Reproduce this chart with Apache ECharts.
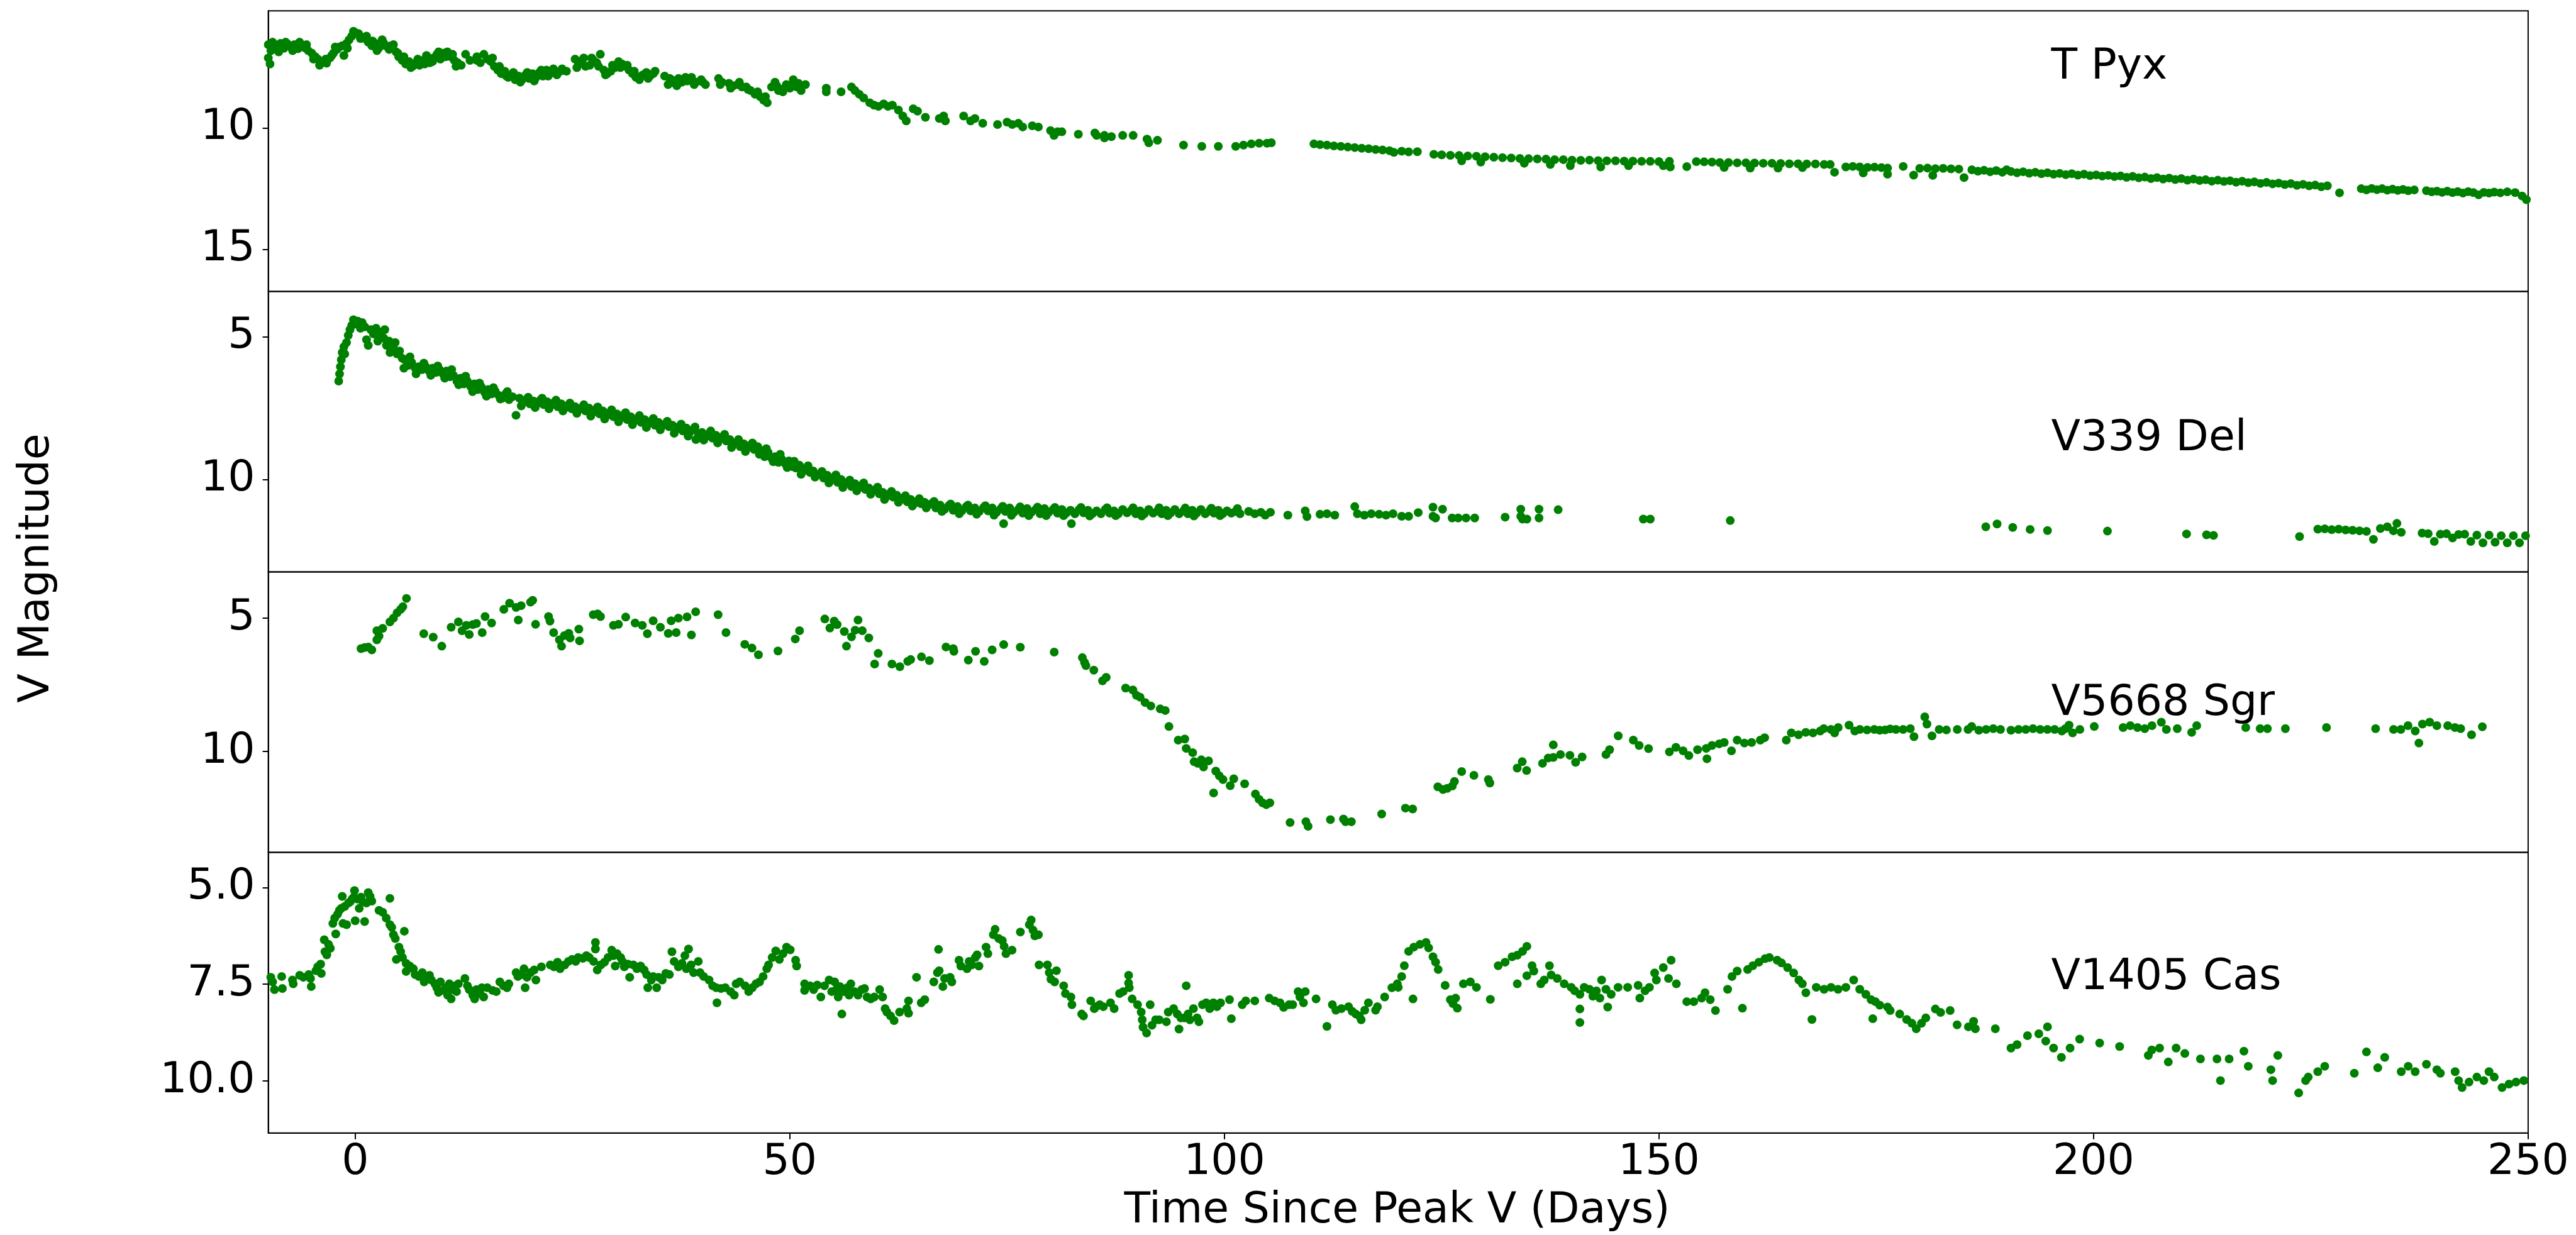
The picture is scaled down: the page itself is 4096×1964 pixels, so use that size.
<!DOCTYPE html>
<html>
<head>
<meta charset="utf-8">
<title>Nova V-band light curves</title>
<script src="https://cdn.jsdelivr.net/npm/echarts@6/dist/echarts.min.js"></script>
<style>
  html, body { margin: 0; padding: 0; background: #fff; }
  #chart { width: 4096px; height: 1964px; }
</style>
</head>
<body>
<div id="chart"></div>
<script>
// light curves: [days since peak V, V magnitude]
const tPyx = [
  [-10.0,6.55],[-10.0,7.1],[-9.8,7.35],[-9.7,6.8],[-9.3,6.55],[-9.0,6.75],[-8.6,6.5],[-8.2,6.7],[-7.8,6.52],[-7.4,6.65],
  [-7.0,6.55],[-6.6,6.72],[-6.2,6.58],[-5.8,6.68],[-5.4,6.8],[-5.0,6.9],[-4.6,7.05],[-4.3,7.15],[-4.0,7.3],[-3.6,7.25],
  [-3.3,7.32],[-2.9,7.1],[-2.5,6.9],[-2.1,6.75],[-1.8,6.65],[-1.5,6.6],[-1.3,7.0],[-1.0,6.5],[-0.7,6.35],[-0.4,6.2],
  [0.0,6.05],[0.4,6.1],[0.8,6.25],[1.1,6.3],[1.5,6.45],[1.9,6.6],[2.3,6.5],[2.7,6.7],[3.1,6.35],[3.5,6.6],[3.9,6.75],
  [4.4,6.55],[4.7,6.85],[5.0,7.05],[5.4,7.2],[5.8,7.35],[6.2,7.25],[6.6,7.45],[7.0,7.3],[7.4,7.4],[7.8,7.2],[8.2,7.0],
  [8.6,7.3],[9.0,7.1],[9.4,6.95],[9.8,7.15],[10.2,6.9],[10.6,6.85],[11.0,7.05],[11.4,7.2],[11.8,7.3],[12.2,7.4],[12.7,6.95],
  [14.0,7.2],[14.0,7.05],[14.8,6.95],[15.2,7.15],[15.6,7.25],[16.0,7.45],[16.4,7.6],[16.8,7.75],[17.2,7.65],[17.6,7.9],
  [18.0,7.8],[18.4,8.0],[18.8,7.85],[19.2,8.0],[19.6,7.8],[20.0,7.95],[20.4,7.75],[20.8,7.9],[21.2,7.7],[21.6,7.85],
  [22.0,7.6],[22.4,7.75],[22.8,7.55],[23.2,7.8],[23.6,7.65],[24.3,7.65],[25.3,7.15],[25.7,7.35],[26.1,7.2],[26.5,7.45],
  [27.0,7.4],[27.4,7.2],[27.8,7.3],[28.2,6.95],[28.6,7.6],[29.0,7.75],[29.4,7.65],[29.9,7.5],[30.3,7.25],[30.7,7.35],
  [31.1,7.45],[31.5,7.6],[31.9,7.75],[32.3,7.9],[32.7,8.0],[33.1,7.8],[33.5,7.7],[33.9,7.85],[34.3,7.75],[35.6,7.85],
  [36.0,8.2],[36.4,8.0],[36.8,8.15],[37.2,7.95],[37.6,8.1],[38.2,8.05],[38.7,7.9],[39.2,8.1],[39.8,8.0],[40.3,8.2],
  [41.8,7.95],[42.2,8.1],[43.0,8.15],[43.5,8.25],[44.0,8.2],[44.5,8.3],[45.0,8.3],[45.5,8.45],[46.0,8.6],[46.6,8.7],
  [47.0,8.85],[47.4,8.95],[47.9,8.3],[48.3,8.1],[48.7,8.45],[49.2,8.5],[49.6,8.2],[50.0,8.35],[50.4,8.0],[50.8,8.3],
  [51.3,8.45],[51.8,8.2],[54.2,8.35],[54.2,8.5],[55.9,8.5],[57.1,8.3],[57.5,8.45],[58.0,8.6],[58.5,8.75],[59.2,8.95],
  [59.7,9.05],[60.2,9.1],[60.8,9.0],[61.3,9.1],[61.8,9.05],[62.5,9.25],[63.0,9.5],[63.4,9.7],[64.2,9.2],[64.7,9.3],
  [65.6,9.55],[67.2,9.6],[67.7,9.5],[67.9,9.7],[70.0,9.5],[70.8,9.7],[71.3,9.6],[72.2,9.8],[73.9,9.85],[75.0,9.75],
  [75.6,9.85],[76.3,9.8],[76.8,9.95],[77.9,9.9],[78.6,9.95],[80.0,10.1],[80.4,10.3],[80.8,10.15],[81.3,10.15],[83.2,10.25],
  [85.1,10.2],[85.3,10.3],[86.2,10.4],[86.2,10.3],[87.0,10.35],[88.3,10.3],[89.5,10.3],[91.1,10.45],[91.3,10.6],[92.3,10.5],
  [95.3,10.7],[97.4,10.75],[99.3,10.75],[101.3,10.75],[102.2,10.7],[103.1,10.65],[104.0,10.62],[104.9,10.62],[105.4,10.6],
  [110.3,10.65],[111.0,10.68],[111.8,10.7],[112.6,10.73],[113.4,10.75],[114.2,10.78],[115.0,10.8],[115.8,10.83],[116.6,10.85],
  [117.4,10.88],[118.2,10.9],[119.0,10.93],[119.5,11.0],
  // band edges of the dense early coverage
  [-9.5,6.45],[-8.8,6.85],[-8.0,6.45],[-7.2,6.8],[-6.4,6.45],[-5.6,6.55],[-4.8,7.15],[-4.1,7.4],[-3.4,7.15],[-2.7,7.0],
  [-2.3,6.65],[-0.9,6.7],[-0.2,6.0],[0.6,6.3],[1.3,6.2],[2.0,6.4],[2.5,6.8],[3.3,6.5],[4.1,6.6],[4.9,6.9],[5.6,7.05],
  [6.4,7.5],[7.2,7.15],[8.0,7.35],[8.9,7.25],[9.6,6.85],[10.4,7.05],[11.2,6.95],[11.6,7.45],[13.2,7.2],[14.4,7.3],
  [15.8,7.1],[16.6,7.45],[17.4,7.85],[18.2,7.7],[19.0,8.1],[19.8,7.7],[20.6,8.05],[21.4,7.6],[22.2,7.85],[23.0,7.7],
  [23.8,7.55],[25.5,7.5],[26.3,7.1],[27.2,7.1],[28.0,7.45],[28.8,7.8],[29.6,7.4],[30.5,7.5],[31.3,7.4],[32.1,7.65],
  [32.9,7.85],[33.7,7.95],[34.5,7.65],[36.2,7.95],[37.0,8.25],[38.0,7.9],[39.0,8.2],[40.0,8.1],[42.0,8.2],[43.2,8.35],
  [44.2,8.1],[45.2,8.4],[46.3,8.5],[47.2,8.7],[48.5,8.25],[49.4,8.35],[50.2,8.2],[51.0,8.15],
  [120.4,10.95],[121.2,10.98],[122.2,10.97],[124.1,11.08],[125.0,11.1],[126.0,11.12],[127.0,11.13],[127.3,11.35],[128.0,11.15],
  [129.0,11.16],[129.5,11.4],[130.0,11.18],[131.0,11.2],[132.0,11.22],[133.0,11.23],[134.0,11.25],[134.5,11.45],[135.0,11.26],
  [136.0,11.27],[137.0,11.28],[137.5,11.5],[138.0,11.3],[139.0,11.3],[139.8,11.55],[140.0,11.32],[141.0,11.33],[142.0,11.32],
  [143.0,11.34],[143.3,11.6],[144.0,11.35],[145.0,11.35],[146.0,11.36],[146.5,11.55],[147.0,11.36],[148.0,11.37],[149.0,11.37],
  [150.0,11.38],[150.5,11.55],[151.2,11.37],[151.3,11.6],[153.2,11.59],
  [154.3,11.38],[155.2,11.39],[156.1,11.4],[157.0,11.42],[157.5,11.62],[158.0,11.42],[159.0,11.43],[160.0,11.43],[160.5,11.65],
  [161.0,11.44],[162.0,11.45],[163.0,11.45],[163.7,11.65],[164.0,11.46],[165.0,11.47],[166.0,11.47],[166.5,11.63],[167.0,11.48],
  [168.0,11.48],[169.0,11.5],[169.7,11.5],[170.2,11.82],
  [171.5,11.6],[172.3,11.58],[173.1,11.6],[173.5,11.85],[174.0,11.62],[174.8,11.61],[175.6,11.63],[176.3,11.65],[176.3,11.9],
  [178.1,11.58],[179.3,11.94],[180.0,11.66],[180.9,11.65],[181.5,11.95],[181.8,11.67],[182.7,11.66],[183.6,11.68],[184.5,11.69],
  [185.1,12.04],
  [186.0,11.72],[186.7,11.78],[187.4,11.74],[188.1,11.8],[188.8,11.75],[189.5,11.82],[190.0,11.72],[190.5,11.79],[191.2,11.84],
  [191.9,11.8],[192.6,11.86],[193.3,11.82],[194.0,11.88],[194.7,11.84],[195.4,11.9],[196.1,11.87],[196.8,11.92],[197.5,11.88],
  [198.2,11.94],[198.9,11.9],[199.6,11.96],[200.3,11.93],[201.0,11.98],[201.7,11.95],[202.4,12.0],[203.1,11.97],[203.8,12.03],
  [204.5,11.99],[205.2,12.05],[205.9,12.02],[206.6,12.08],[207.3,12.04],[208.0,12.1],
  [208.7,12.06],[209.4,12.12],[210.1,12.08],[210.8,12.15],[211.5,12.1],[212.2,12.16],[212.9,12.13],[213.6,12.19],[214.3,12.15],
  [215.0,12.2],[215.7,12.17],[216.4,12.23],[217.1,12.19],[217.8,12.25],[218.5,12.22],[219.2,12.28],[219.9,12.24],[220.6,12.3],
  [221.3,12.27],[222.0,12.33],[222.7,12.29],[223.4,12.36],[224.1,12.32],[224.8,12.38],[225.5,12.35],[226.2,12.42],[226.9,12.38],
  [228.3,12.67],
  [230.8,12.5],[231.4,12.55],[232.0,12.49],[232.6,12.54],[233.2,12.5],[233.8,12.56],[234.4,12.52],[235.0,12.57],[235.6,12.53],
  [236.2,12.58],[236.9,12.55],
  [238.3,12.58],[238.9,12.63],[239.5,12.6],[240.1,12.65],[240.7,12.6],[241.3,12.66],[241.9,12.62],[242.5,12.68],[243.1,12.62],
  [243.7,12.66],[244.3,12.75],[244.9,12.65],[245.5,12.68],[246.1,12.64],[246.8,12.67],[247.6,12.63],[248.5,12.66],[249.3,12.8],
  [249.8,12.95]
];

const v339Del = [
  [-1.9,6.55],[-1.8,6.3],[-1.7,6.05],[-1.6,5.8],[-1.5,5.55],[-1.3,5.35],[-1.2,5.6],[-1.0,5.2],[-0.8,4.95],[-0.6,4.75],
  [-0.4,4.6],[-0.2,4.4],[0.1,4.55],[0.3,4.45],[0.6,4.7],[0.8,4.5],[1.1,4.65],[1.3,5.1],[1.5,5.3],[1.8,4.75],[2.1,4.9],
  [2.4,4.7],[2.7,5.0],[3.0,4.85],[3.3,5.05],[3.6,5.3],[3.9,5.15],[4.2,5.4],[4.5,5.45],[4.8,5.6],[5.1,5.5],[5.4,5.75],
  [5.7,5.8],[6.1,6.0],[6.5,5.9],[6.9,6.1],[7.3,6.05],[7.7,6.15],[8.1,6.05],[8.5,6.2],[8.9,6.1],[9.3,6.25],[9.7,6.15],
  [10.1,6.3],[10.5,6.2],[10.9,6.4],[11.3,6.35],[11.7,6.55],[12.1,6.45],[12.5,6.65],[12.9,6.55],[13.3,6.75],[13.7,6.65],
  [14.1,6.85],[14.5,6.75],[14.9,6.95],[15.3,6.85],[15.7,7.0],[16.1,6.9],[16.5,7.05],[16.9,7.15],[17.3,7.0],[17.7,7.2],
  [18.1,7.1],[18.5,7.75],[18.9,7.15],[19.3,7.3],[19.7,7.2],[20.1,7.35],[20.5,7.25],[20.9,7.35],[21.3,7.22],[21.7,7.38],
  [22.1,7.28],[22.5,7.4],[22.9,7.3],[23.3,7.45],[23.7,7.35],[24.1,7.5],[24.5,7.4],[24.9,7.52],[25.3,7.45],[25.7,7.55],
  [26.1,7.48],[26.5,7.6],[26.9,7.5],[27.3,7.65],[27.7,7.55],[28.1,7.7],[28.5,7.6],[28.9,7.75],[29.3,7.65],[29.7,7.8],
  [30.1,7.7],[30.5,7.85],[30.9,7.75],[31.3,7.9],[31.7,7.8],[32.1,7.95],[32.5,7.85],[32.9,8.0],[33.3,7.9],[33.7,8.05],
  [34.1,7.95],[34.5,8.1],[34.9,8.0],[35.3,8.12],[35.7,8.05],[36.1,8.15],[36.5,8.1],[36.9,8.25],[37.3,8.15],[37.7,8.3],
  [38.1,8.2],[38.5,8.35],[38.9,8.25],[39.2,8.6],[39.5,8.4],[39.9,8.35],[40.3,8.5],[40.7,8.4],[41.1,8.55],[41.5,8.45],
  [41.9,8.6],[42.3,8.5],[42.7,8.65],[43.1,8.6],[43.5,8.75],[43.9,8.7],[44.3,8.85],[44.7,8.75],[45.1,8.9],[45.5,8.8],
  [45.9,8.95],[46.3,8.85],[46.7,9.0],[47.1,9.2],[47.5,9.05],[47.9,9.25],[48.3,9.2],[48.7,9.4],[49.1,9.3],[49.5,9.45],
  [49.9,9.35],[50.3,9.55],[50.7,9.6],[51.1,9.5],[51.5,9.7],[51.9,9.6],[52.3,9.75],[52.7,9.7],[53.1,9.85],[53.5,9.8],
  [53.9,9.95],[54.3,9.85],[54.7,10.0],[55.1,9.95],[55.5,10.1],[55.9,10.0],[56.3,10.15],[56.7,10.1],[57.1,10.25],[57.5,10.15],
  [57.9,10.3],[58.3,10.2],[58.7,10.35],[59.1,10.3],[59.5,10.4],[59.9,10.35],[60.3,10.5],[60.7,10.45],[61.1,10.6],[61.5,10.5],
  [61.9,10.62],[62.3,10.55],[62.7,10.7],[63.1,10.65],[63.5,10.78],[63.9,10.7],[64.3,10.85],[64.7,10.75],[65.1,10.85],[65.5,10.8],
  [65.9,10.9],[66.3,10.85],[66.8,11.0],[67.3,10.9],[67.8,11.05],[68.3,10.92],[68.8,11.08],[69.3,10.95],[69.8,11.1],[70.3,10.95],
  [70.8,11.1],[71.3,11.0],[71.8,11.12],[72.3,10.98],[72.8,11.1],[73.3,11.0],[73.8,11.15],[74.3,11.02],[74.6,11.55],[74.8,11.12],
  [75.3,11.0],[75.8,11.15],[76.3,11.05],[76.8,11.18],[77.3,11.02],[77.8,11.15],[78.3,11.05],[78.8,11.2],[79.3,11.02],[79.8,11.15],
  [80.3,11.05],[80.8,11.18],[81.3,11.05],[81.8,11.18],[82.3,11.08],[82.4,11.55],[82.8,11.2],[83.3,11.05],[83.8,11.17],[84.3,11.08],
  [84.8,11.2],[85.3,11.1],[85.8,11.2],[86.3,11.05],[86.8,11.18],[87.3,11.1],[87.8,11.2],[88.3,11.05],[88.8,11.17],[89.3,11.08],
  [89.8,11.2],[90.3,11.1],[90.8,11.2],[91.3,11.05],[91.8,11.18],[92.3,11.1],[92.8,11.2],[93.3,11.08],[93.8,11.18],[94.3,11.05],
  [94.8,11.2],[95.3,11.1],[95.8,11.2],[96.3,11.08],[96.8,11.18],[97.3,11.05],[97.8,11.2],[98.3,11.1],[98.8,11.18],[99.3,11.08],
  [99.8,11.2],[100.3,11.1],[100.8,11.18],[101.3,11.12],[101.8,11.2],[102.8,11.12],[103.5,11.2],[104.2,11.15],[104.7,11.25],
  [105.3,11.15],[107.3,11.25],[109.3,11.1],[109.5,11.3],[111.0,11.22],[111.8,11.2],[112.7,11.25],[115.0,10.95],[115.3,11.2],
  [116.1,11.25],[116.9,11.2],[117.8,11.22],[118.6,11.25],[119.4,11.2],
  // band edges of the dense decline
  [2.6,5.15],[3.4,4.75],[4.0,5.55],[4.6,5.2],[5.6,6.1],[6.3,5.7],[7.0,6.3],[7.9,5.92],[8.7,6.35],[9.5,6.02],[10.3,6.45],
  [11.1,6.15],[11.9,6.68],[12.7,6.38],[13.5,6.92],[14.3,6.62],[15.1,7.08],[15.9,6.78],[16.7,7.18],[17.5,6.92],[19.1,7.42],
  [19.9,7.12],[20.7,7.48],[21.5,7.15],[22.3,7.52],[23.1,7.22],[23.9,7.6],[24.7,7.32],[25.5,7.68],[26.3,7.38],[27.1,7.78],
  [27.9,7.46],[28.7,7.88],[29.5,7.56],[30.3,7.98],[31.1,7.66],[31.9,8.08],[32.7,7.76],[33.5,8.18],[34.3,7.86],[35.1,8.26],
  [35.9,7.96],[36.7,8.38],[37.5,8.06],[38.3,8.48],[39.1,8.16],[40.1,8.62],[40.9,8.3],[41.7,8.72],[42.5,8.42],[43.3,8.88],
  [44.1,8.6],[44.9,9.02],[45.7,8.72],[46.5,9.12],[47.3,8.92],[48.1,9.38],[48.9,9.12],[49.7,9.58],[50.5,9.36],[51.3,9.82],
  [52.1,9.52],[52.9,9.92],[53.7,9.72],[54.5,10.12],[55.3,9.84],[56.1,10.28],[56.9,10.02],[57.7,10.4],[58.5,10.12],[59.3,10.52],
  [60.1,10.27],[60.9,10.7],[61.7,10.42],[62.5,10.8],[63.3,10.57],[64.1,10.93],[64.9,10.67],[65.7,11.0],[66.6,10.77],[67.5,11.12],
  [68.5,10.86],[69.5,11.2],[70.5,10.9],[71.5,11.22],[72.5,10.92],[73.5,11.25],[74.5,10.94],[75.5,11.26],[76.5,10.96],[77.5,11.27],
  [78.5,10.97],[79.5,11.27],[80.5,10.98],[81.5,11.27],[83.5,10.98],[84.5,11.28],[86.5,10.99],[87.5,11.27],[89.5,10.99],
  [90.5,11.28],[92.5,10.99],[93.5,11.27],[95.5,11.0],[96.5,11.28],[98.5,11.01],[99.5,11.27],[101.5,11.02],
  [120.4,11.29],[121.2,11.29],[122.3,11.16],[124.0,10.97],[124.0,11.29],[124.3,11.35],[125.1,11.04],[126.2,11.35],[126.9,11.35],
  [127.8,11.35],[128.8,11.35],[132.3,11.32],[134.1,11.04],[134.1,11.29],[134.3,11.39],[134.8,11.39],[136.2,11.04],[136.2,11.35],
  [138.4,11.06],[148.2,11.39],[149.0,11.39],[158.2,11.44],[187.6,11.66],[188.9,11.56],[190.7,11.68],[192.7,11.75],[194.7,11.79],
  [201.6,11.81],[210.7,11.91],[213.0,11.94],[213.8,11.96],[223.7,12.0],[225.8,11.74],[226.6,11.73],[227.4,11.76],[228.2,11.74],
  [229.0,11.77],[229.8,11.78],[230.6,11.8],[231.4,11.82],[232.2,12.1],[233.0,11.72],[233.8,11.66],[234.5,11.8],[234.9,11.54],
  [235.4,11.85],[237.8,11.88],[238.5,11.9],[239.2,12.17],[239.9,11.92],[240.6,11.9],[241.3,12.05],[242.0,11.93],[242.7,11.92],
  [243.4,12.17],[244.1,11.95],[244.8,12.22],[245.5,11.95],[246.2,12.2],[246.9,11.97],[247.6,12.22],[248.3,11.97],[249.0,12.22],
  [249.7,11.97]
];

const v5668Sgr = [
  [0.67,6.14],[1.08,6.10],[1.50,6.08],[1.91,6.19],[2.49,5.81],[2.74,5.67],[2.49,5.47],[3.16,5.38],[3.99,5.14],[4.40,5.00],
  [4.82,4.80],[5.23,4.67],[5.48,4.57],[5.90,4.26],[7.89,5.58],[8.97,5.71],[9.96,6.05],[11.04,5.34],[11.87,5.14],[12.29,5.47],
  [12.78,5.27],[13.12,5.61],[13.53,5.24],[13.95,5.20],[14.61,5.54],[14.94,4.94],[15.69,5.18],[17.10,4.67],[17.76,4.44],
  [18.51,4.60],[18.76,5.07],[19.09,4.53],[20.17,4.40],[20.42,4.33],[20.75,5.23],[22.24,4.94],[22.41,5.11],[22.83,5.54],
  [23.49,5.81],[23.74,6.05],[24.07,5.65],[24.57,5.57],[24.73,5.74],[25.73,5.41],[25.81,5.85],[27.39,4.87],[27.89,4.84],
  [28.22,4.94],[29.71,5.27],[30.29,5.23],[31.12,4.96],[32.20,5.18],[33.03,5.27],[33.61,5.58],[34.28,5.10],[35.11,5.34],
  [36.02,5.57],[36.35,5.10],[36.93,5.54],[37.18,5.00],[38.18,4.95],[38.68,5.63],[39.17,4.76],[41.75,4.87],[42.66,5.54],
  [44.82,5.98],[45.65,6.12],[46.39,6.37],[48.64,6.23],[50.63,5.78],[51.12,5.47],[54.03,5.03],[54.61,5.37],[55.11,5.11],
  [55.44,5.24],[56.27,5.50],[56.52,6.05],[57.10,5.70],[57.52,5.45],[57.85,5.07],[58.34,5.47],[59.09,5.74],[59.76,6.72],
  [60.17,6.32],[61.75,6.72],[62.66,6.82],[63.57,6.62],[63.91,6.55],[65.15,6.45],[66.06,6.59],[67.97,6.08],[68.80,6.14],
  [68.88,6.24],[70.54,6.57],[71.37,6.24],[72.37,6.62],[73.28,6.19],[74.61,5.99],[76.52,6.09],[80.42,6.27],
  [83.66,6.48],[83.91,6.66],[84.07,6.78],[84.98,6.95],[85.98,7.35],[86.40,7.22],[88.64,7.62],[89.47,7.69],[89.88,7.89],
  [90.30,7.96],[90.88,8.16],[91.54,8.29],[92.62,8.40],[93.20,8.46],[93.62,9.06],[94.69,9.57],[95.44,9.53],[95.61,9.88],
  [96.35,10.04],[96.52,10.38],[96.93,10.44],[97.35,10.31],[97.60,10.58],[98.18,10.35],[98.76,11.55],[99.01,10.73],
  [99.42,10.91],[99.84,11.05],[100.67,11.28],[101.08,11.02],[102.33,11.21],[103.57,11.59],[103.99,11.79],[104.40,11.92],
  [104.82,11.99],[105.23,11.92],[107.56,12.66],[109.38,12.63],[109.63,12.80],[112.20,12.55],[113.70,12.53],[113.94,12.63],
  [114.61,12.63],[118.10,12.34],
  [120.83,12.12],[121.66,12.15],[124.56,11.32],[125.15,11.42],[125.64,11.38],[126.22,11.29],[126.47,11.12],[127.30,10.75],
  [128.71,10.89],[130.37,11.05],[130.54,11.18],[133.69,10.62],[134.27,10.38],[134.77,10.71],[136.60,10.44],[137.26,10.24],
  [137.84,10.22],[137.84,9.75],[138.67,10.11],[139.75,10.14],[140.41,10.40],[141.16,10.20],[143.90,10.11],[144.32,9.93],
  [145.31,9.41],[147.05,9.57],[147.72,9.77],[148.80,9.89],[151.20,10.01],[151.95,9.84],[152.78,9.97],[153.44,10.15],
  [154.44,9.93],[155.44,9.88],[155.52,10.27],[156.10,9.77],[156.93,9.71],[157.51,9.66],[158.34,9.97],[159.00,9.57],
  [159.83,9.68],[160.66,9.66],[161.66,9.57],[162.16,9.48],[164.65,9.57],[165.23,9.30],[166.06,9.37],[166.89,9.28],
  [167.72,9.30],[168.55,9.23],[168.96,9.14],[169.79,9.17],[170.21,9.30],[170.62,9.10],[171.87,9.01],[172.53,9.23],
  [173.11,9.17],[173.94,9.19],[174.77,9.17],[175.4,9.2],[176.02,9.19],[176.6,9.15],[177.26,9.17],[178.09,9.17],[178.92,9.14],
  [179.34,9.44],[180.58,8.70],[180.83,8.97],[181.41,9.41],[182.24,9.17],[183.07,9.19],[184.32,9.17],[185.56,9.17],
  [185.98,9.06],[186.8,9.2],[187.63,9.17],[188.46,9.14],[189.29,9.17],[190.5,9.2],[191.37,9.17],[192.20,9.17],[193.03,9.14],
  [193.86,9.17],[194.69,9.17],[195.52,9.17],[196.35,9.23],[196.76,9.14],[197.18,9.01],[197.59,9.30],[198.42,9.17],
  [200.08,9.06],[203.40,9.10],[204.23,9.03],[205.06,9.10],[205.89,9.14],[206.72,9.03],[207.80,8.90],[208.38,9.17],
  [209.63,9.14],[211.29,9.28],[211.87,9.03],[217.51,9.10],[219.17,9.14],[220.00,9.14],[222.07,9.14],[226.80,9.10],
  [232.45,9.14],[234.52,9.17],[235.35,9.17],[236.18,9.03],[237.01,9.23],[237.43,9.68],[237.84,8.97],[238.67,8.90],
  [239.50,9.03],[240.75,9.03],[241.58,9.10],[242.24,9.14],[243.49,9.37],[244.73,9.07]
];

const v1405Cas = [
  [-9.71,7.32],[-9.50,7.44],[-9.29,7.64],[-8.46,7.30],[-8.38,7.61],[-7.22,7.39],[-7.13,7.49],[-6.39,7.27],[-5.97,7.32],
  [-5.35,7.25],[-5.14,7.35],[-5.06,7.56],[-4.52,7.15],[-4.31,7.05],[-3.98,6.98],[-3.90,7.22],[-3.56,6.35],[-3.48,6.66],
  [-3.27,6.74],[-3.07,6.47],[-2.86,6.57],[-2.57,5.93],[-2.36,5.79],[-2.24,6.20],[-2.03,5.69],[-1.82,5.59],[-1.61,5.54],
  [-1.49,5.23],[-1.41,5.93],[-1.20,5.49],[-0.99,5.96],[-0.78,5.40],[-0.58,5.37],[-0.37,5.30],[-0.16,5.25],[-0.08,5.08],
  [0.00,5.86],[0.25,5.30],[0.46,5.54],[0.67,5.25],[0.88,5.37],[1.08,5.88],[1.29,5.40],[1.50,5.13],[1.71,5.23],[1.91,5.35],
  [2.74,5.59],[3.16,5.64],[3.57,5.79],[3.99,5.28],[3.99,5.96],[4.20,6.03],[4.40,6.22],[4.61,6.32],[4.73,6.86],[5.03,6.54],
  [5.23,6.66],[5.44,6.81],[5.65,6.13],[5.86,6.96],[5.86,7.17],[6.27,7.03],[6.69,7.10],[6.89,7.25],[7.31,7.30],[7.72,7.20],
  [7.93,7.44],[8.14,7.35],[8.55,7.27],[8.76,7.39],[9.17,7.49],[9.38,7.59],[9.59,7.71],[9.80,7.44],[10.21,7.66],[10.42,7.59],
  [10.63,7.78],[10.83,7.49],[11.04,7.88],[11.25,7.64],[11.46,7.54],[11.66,7.69],[11.87,7.49],[12.62,7.35],[12.91,7.54],
  [13.12,7.64],[13.53,7.78],[13.74,7.88],[13.95,7.64],[14.36,7.74],[14.57,7.59],[14.78,7.83],[15.19,7.59],[15.81,7.66],
  [16.23,7.69],[16.64,7.44],[17.06,7.54],[17.47,7.59],[17.68,7.49],[18.51,7.20],[18.72,7.30],[19.13,7.25],[19.42,7.10],
  [19.55,7.59],[19.76,7.32],[20.17,7.20],[20.59,7.13],[20.79,7.39],[21.42,7.05],[22.45,7.00],[22.87,7.05],[23.28,6.93],
  [23.57,7.10],[24.11,7.00],[24.53,6.91],[24.94,6.86],[25.36,6.91],[25.65,6.81],[26.19,6.83],[26.60,6.76],[26.93,6.81],
  [27.43,6.91],[27.64,6.42],[27.64,6.59],[27.85,7.13],[28.26,7.00],[28.68,6.93],[29.09,6.81],[29.51,6.62],[29.71,6.76],
  [29.92,7.03],[30.13,6.71],[30.54,6.81],[30.75,6.91],[30.96,7.05],[31.37,6.98],[31.58,7.32],[32.00,7.00],[32.41,7.10],
  [32.83,7.03],[33.24,7.13],[33.53,7.25],[33.66,7.59],[34.07,7.39],[34.28,7.30],[34.69,7.59],[34.90,7.32],[35.32,7.39],
  [35.73,7.22],[36.15,7.25],[36.44,6.66],[36.69,6.91],[37.18,7.05],[37.60,6.96],[37.93,6.76],[38.10,7.10],[38.35,6.59],
  [38.64,7.00],[38.93,7.20],[39.47,6.91],[39.67,7.20],[40.09,7.30],[40.71,7.39],[41.12,7.54],[41.54,7.59],[41.62,7.98],
  [42.08,7.61],[42.58,7.59],[43.20,7.69],[43.61,7.78],[43.82,7.49],[44.24,7.44],[44.86,7.54],[45.27,7.69],[45.69,7.59],
  [46.10,7.49],[46.52,7.44],[46.93,7.30],[47.35,7.10],[47.56,7.00],[47.97,6.81],[48.39,6.64],[48.80,6.86],[49.22,6.71],
  [49.63,6.54],[50.05,6.61],[50.67,6.88],[50.79,7.03],[51.70,7.49],[51.70,7.66],[52.33,7.54],[52.74,7.64],[53.16,7.52],
  [53.57,7.83],[53.99,7.54],[54.53,7.39],[54.82,7.69],
  [55.16,7.44],[55.36,7.64],[55.57,7.83],[55.78,7.56],[55.99,8.27],[56.19,7.69],[56.61,7.59],[56.82,7.78],[57.02,7.49],
  [57.44,7.69],[57.85,7.78],[58.27,7.64],[58.60,7.61],[58.89,7.83],[59.31,7.88],[59.72,7.83],[60.34,7.64],[60.68,7.83],
  [60.97,8.13],[61.17,8.22],[61.59,8.32],[62.00,8.44],[62.63,8.22],[63.46,8.13],[63.66,7.93],[63.66,8.25],[64.58,7.32],
  [65.12,7.98],[65.53,7.90],[66.57,7.44],[66.98,7.20],[67.11,6.60],[67.19,7.15],[67.61,7.56],[67.81,7.35],[68.44,7.32],
  [68.64,7.44],[69.47,6.88],[69.68,7.03],[70.39,7.10],[70.63,6.91],[70.93,7.00],[71.34,6.81],[71.55,6.74],[71.76,7.03],
  [72.58,6.54],[72.79,6.71],[73.42,6.22],[73.62,6.08],[74.04,6.32],[74.45,6.37],[74.66,6.52],[74.87,6.71],[75.57,6.62],
  [76.53,6.15],[77.56,5.96],[77.77,5.84],[77.98,6.10],[78.19,6.25],[78.60,6.22],[78.68,7.00],[79.64,7.00],[79.85,7.20],
  [80.05,7.37],[80.47,7.44],[80.68,7.15],[81.51,7.54],[81.71,7.74],[82.34,7.83],[82.46,8.03],[83.58,8.27],[83.79,8.32],
  [84.62,7.93],[85.03,8.13],[85.24,8.08],[85.66,8.03],[86.07,8.08],[86.90,7.98],[87.32,8.13],[87.94,7.74],[88.35,7.69],
  [88.98,7.27],[88.98,7.47],[89.06,7.59],[89.39,7.88],[90.01,8.03],[90.43,8.22],[90.55,8.42],[90.64,8.61],[91.05,8.76],
  [91.46,8.03],[91.67,8.56],[92.09,8.42],[92.50,8.42],[93.33,8.47],[93.54,8.22],[94.16,8.13],[94.58,8.27],[94.78,8.66],
  [94.99,8.37],[95.41,8.37],[95.61,7.54],[95.82,8.27],[96.03,8.42],[96.44,8.13],[96.86,8.37],[97.07,8.47],[97.48,8.03],
  [97.90,7.98],[98.31,8.13],[98.73,7.98],[99.14,8.08],[99.56,7.98],[100.59,7.90],[100.80,8.39],[102.05,8.03],[102.46,7.93],
  [103.50,7.93],[105.16,7.86],[105.78,7.93],[106.40,7.98],[106.82,8.10],[107.44,8.03],[107.86,8.03],[108.48,7.69],
  [108.69,7.83],[109.10,7.98],[109.31,7.69],[110.55,7.88],[111.80,8.59],[112.42,8.03],[112.83,8.17],[113.46,8.13],
  [114.29,8.08],[114.70,8.20],[115.12,8.27],[115.53,8.32],[115.74,8.42],[116.15,8.17],[116.57,7.98],[117.40,8.17],
  [117.61,8.08],[118.44,7.83],[119.27,7.59],[119.89,7.49],
  [120.0,7.58],[120.4,7.30],[120.7,7.02],[121.2,6.65],[121.8,6.54],[122.5,6.47],[123.2,6.42],[123.5,6.56],[124.0,6.79],
  [124.3,6.93],[124.6,7.12],[121.7,7.88],[125.4,7.53],[126.0,7.90],[126.3,8.00],[126.6,7.86],[126.8,8.12],[127.5,7.49],
  [128.3,7.44],[129.0,7.58],[130.6,7.89],[131.5,7.02],[132.3,6.93],[133.1,6.79],[133.7,6.75],[134.3,6.65],[134.8,6.52],
  [133.7,7.49],[134.8,7.28],[135.4,7.02],[135.6,7.16],[136.4,7.49],[136.8,7.39],[137.4,7.02],[137.6,7.26],[138.3,7.35],
  [139.1,7.49],[139.9,7.58],[140.3,7.67],[140.9,7.76],[140.9,8.14],[140.9,8.49],[141.4,7.58],[142.0,7.63],[142.4,7.81],
  [142.8,7.67],[143.2,7.86],[143.4,7.39],[143.9,7.63],[144.1,8.09],[144.5,7.76],[145.3,7.58],[146.4,7.58],[147.6,7.53],
  [147.8,7.86],[148.4,7.67],[148.9,7.58],[149.5,7.21],[149.7,7.39],[150.5,7.07],[151.1,7.35],[151.4,6.88],[152.0,7.49],
  [153.2,7.95],[154.0,7.95],[154.9,7.86],[155.3,7.72],[155.9,7.90],[156.5,8.18],[157.9,7.63],[158.4,7.30],[159.0,7.16],
  [159.6,8.12],[160.2,7.12],[160.8,7.02],[161.5,6.93],[162.2,6.84],[162.7,6.81],[163.6,6.88],[164.1,6.95],[164.8,7.07],
  [165.5,7.21],[166.1,7.39],[166.5,7.49],[166.9,7.72],[167.6,8.41],[168.1,7.58],[169.0,7.63],[169.8,7.58],[170.6,7.63],
  [171.5,7.58],[172.4,7.39],[173.1,7.63],[173.8,7.76],[174.4,7.90],[174.6,8.39],[174.9,7.95],[175.4,8.04],[176.3,8.09],
  [176.6,8.18],[177.7,8.27],[178.5,8.41],[179.1,8.51],[179.6,8.65],[180.2,8.51],[180.7,8.37],[181.8,8.14],[182.4,8.23],
  [183.5,8.18],[184.3,8.55],[185.6,8.60],[186.2,8.46],[186.4,8.65],[188.7,8.65],[190.5,9.15],[191.2,9.06],[192.4,8.83],
  [193.7,8.78],[194.7,8.60],[194.5,8.97],[195.4,9.15],[196.3,9.39],[197.3,9.15],[198.4,8.92],[200.7,9.02],[203.0,9.11],
  [206.3,9.34],[206.7,9.20],[207.6,9.15],[208.6,9.51],[209.5,9.15],[210.5,9.29],[212.3,9.43],[214.2,9.43],[214.6,9.99],
  [215.6,9.43],[217.3,9.23],[217.8,9.62],[220.4,9.71],[220.6,9.99],[221.2,9.34],[223.6,10.31],[224.4,9.99],[224.7,9.90],
  [225.8,9.76],[226.6,9.62],[230.0,9.80],[231.4,9.25],[232.7,9.66],[233.5,9.39],[235.4,9.76],[236.2,9.62],[237.0,9.76],
  [238.3,9.57],[239.5,9.71],[239.9,9.80],[241.6,9.76],[242.0,9.99],[242.4,10.17],[243.2,10.03],[244.1,9.90],[244.9,9.99],
  [245.5,9.76],[246.1,9.90],[247.0,10.17],[247.8,10.08],[248.6,10.03],[249.5,9.99]
];

const novaNames = ['T Pyx', 'V339 Del', 'V5668 Sgr', 'V1405 Cas'];
const dayTicks = [0, 50, 100, 150, 200, 250];
const magTicks = [[10, 15], [5, 10], [5, 10], [5.0, 7.5, 10.0]];
const magLimits = [[5.157, 16.74], [3.408, 13.24], [3.266, 13.78], [4.093, 11.344]];
const xTitle = 'Time Since Peak V (Days)';
const yTitle = 'V Magnitude';

// layout (pixels in the 4096 x 1964 window)
const FONT = 'DejaVu Sans';
const FS = 68;
const GREEN = '#008000';
const gridLeft = 426.6, gridRight = 76.1, panelH = 446.1;
const panelTops = [17.3, 463.4, 909.5, 1355.6];
const nameX = 3261.6;
const nameBaselines = [131.3, 721.9, 1142.6, 1578.6];
const midShift = 0.346 * FS; // alphabetic baseline -> canvas middle

const curves = [tPyx, v339Del, v5668Sgr, v1405Cas];
const axisLineStyle = { color: '#000', width: 2 };

const chart = echarts.init(document.getElementById('chart'), null, { renderer: 'canvas' });

const grid = panelTops.map(t => ({
  left: gridLeft, right: gridRight, top: t, height: panelH,
  show: true, borderColor: '#000', borderWidth: 2, backgroundColor: 'transparent'
}));

const xAxis = panelTops.map((t, i) => ({
  type: 'value', gridIndex: i, min: -10, max: 250,
  show: i === 3,
  splitLine: { show: false },
  axisLine: { show: true, onZero: false, lineStyle: axisLineStyle },
  axisTick: { show: true, length: 10, lineStyle: axisLineStyle, customValues: dayTicks },
  axisLabel: { show: true, customValues: dayTicks, fontSize: FS, fontFamily: FONT, color: '#000', margin: 14 }
}));

const yAxis = panelTops.map((t, i) => ({
  type: 'value', gridIndex: i, inverse: true,
  min: magLimits[i][0], max: magLimits[i][1],
  splitLine: { show: false },
  axisLine: { show: true, onZero: false, lineStyle: axisLineStyle },
  axisTick: { show: true, length: 9, lineStyle: axisLineStyle, customValues: magTicks[i] },
  axisLabel: {
    customValues: magTicks[i],
    formatter: v => (i === 3 ? Number(v).toFixed(1) : String(v)),
    fontSize: FS, fontFamily: FONT, color: '#000', margin: 21
  }
}));

const series = curves.map((d, i) => ({
  name: novaNames[i], type: 'scatter', xAxisIndex: i, yAxisIndex: i,
  data: d, symbol: 'circle', symbolSize: 14, clip: true, silent: true,
  itemStyle: { color: GREEN, opacity: 1 },
  emphasis: { disabled: true }
}));

function textEl(str, x, y, align, rotation) {
  return {
    type: 'text', x: x, y: y, rotation: rotation || 0, silent: true,
    style: {
      text: str, fontSize: FS, fontFamily: FONT, fill: '#000',
      align: align, verticalAlign: 'middle',
      textAlign: align, textVerticalAlign: 'middle'
    }
  };
}

const graphic = novaNames.map((n, i) => textEl(n, nameX, nameBaselines[i] - midShift, 'left'));
graphic.push(textEl(yTitle, 83.2 - midShift, 903.5, 'center', Math.PI / 2));
graphic.push(textEl(xTitle, 2221.6, 1950 - midShift, 'center'));

chart.setOption({
  animation: false,
  backgroundColor: '#fff',
  grid: grid,
  xAxis: xAxis,
  yAxis: yAxis,
  series: series,
  graphic: { elements: graphic }
});
</script>
</body>
</html>
